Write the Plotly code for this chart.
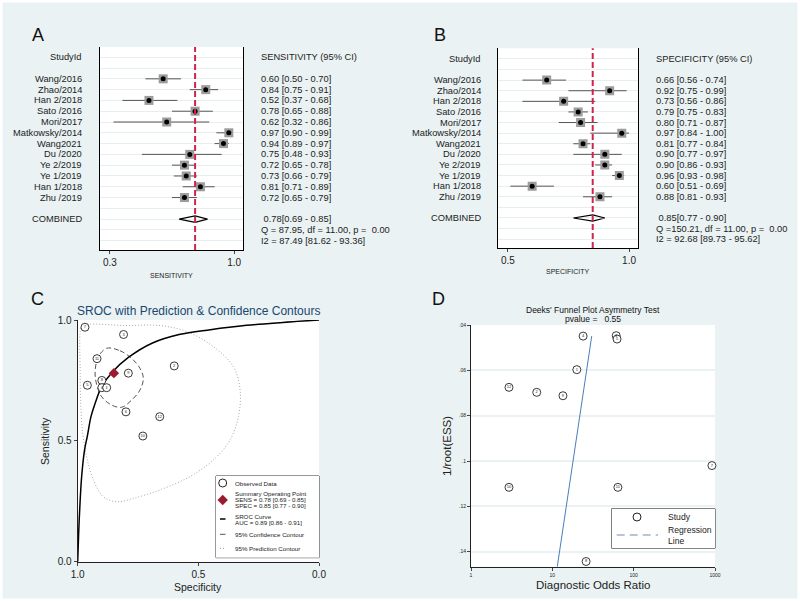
import plotly.graph_objects as go

# ---- forest plots, panels A and B
studies = ["Wang/2016", "Zhao/2014", "Han 2/2018", "Sato /2016", "Mori/2017",
           "Matkowsky/2014", "Wang2021", "Du /2020", "Ye 2/2019", "Ye 1/2019",
           "Han 1/2018", "Zhu /2019"]
sens = [0.60, 0.84, 0.52, 0.78, 0.62, 0.97, 0.94, 0.75, 0.72, 0.73, 0.81, 0.72]
sens_lo = [0.50, 0.75, 0.37, 0.65, 0.32, 0.90, 0.89, 0.48, 0.65, 0.66, 0.71, 0.65]
sens_hi = [0.70, 0.91, 0.68, 0.88, 0.86, 0.99, 0.97, 0.93, 0.78, 0.79, 0.89, 0.79]
spec = [0.66, 0.92, 0.73, 0.79, 0.80, 0.97, 0.81, 0.90, 0.90, 0.96, 0.60, 0.88]
spec_lo = [0.56, 0.75, 0.56, 0.75, 0.71, 0.84, 0.77, 0.77, 0.86, 0.93, 0.51, 0.81]
spec_hi = [0.74, 0.99, 0.86, 0.83, 0.87, 1.00, 0.84, 0.97, 0.93, 0.98, 0.69, 0.93]

sens_pooled = [0.78, 0.69, 0.85]
spec_pooled = [0.85, 0.77, 0.90]
# Q, df, p, I2, I2 low, I2 high
sens_het = [87.95, 11.00, 0.00, 87.49, 81.62, 93.36]
spec_het = [150.21, 11.00, 0.00, 92.68, 89.73, 95.62]

# ---- SROC, panel C (numbers of the study circles)
study_no = [12, 11, 10, 9, 6, 7, 3, 8, 4, 5, 2, 1]
sroc_spec = [1.0, 0.996, 0.99, 0.983, 0.972, 0.96, 0.945, 0.928, 0.90, 0.857,
             0.79, 0.69, 0.58, 0.45, 0.30, 0.15, 0.0]
sroc_sens = [0.0, 0.12, 0.25, 0.36, 0.46, 0.52, 0.60, 0.655, 0.725, 0.784,
             0.845, 0.905, 0.94, 0.96, 0.978, 0.99, 1.0]
conf_spec = [0.880, 0.825, 0.776, 0.742, 0.728, 0.742, 0.776, 0.818, 0.859,
             0.901, 0.921, 0.928, 0.914, 0.880]
conf_sens = [0.883, 0.873, 0.841, 0.800, 0.759, 0.710, 0.669, 0.639, 0.648,
             0.683, 0.731, 0.786, 0.848, 0.883]
pred_spec = [0.983, 0.80, 0.659, 0.548, 0.438, 0.355, 0.327, 0.334, 0.369, 0.438,
             0.535, 0.659, 0.769, 0.838, 0.894, 0.935, 0.963, 0.979, 0.988, 0.990,
             0.990, 0.983]
pred_sens = [0.975, 0.977, 0.977, 0.952, 0.890, 0.807, 0.710, 0.600, 0.503, 0.421,
             0.352, 0.297, 0.262, 0.248, 0.269, 0.338, 0.434, 0.531, 0.669, 0.807,
             0.945, 0.975]
auc = [0.89, 0.86, 0.91]

# ---- Deeks funnel, panel D
dor = [2.93, 64, 2.93, 13.5, 6.43, 917, 61, 26, 23.9, 62.5, 6.43, 20]
inv_root_ess = [0.0675, 0.1116, 0.1116, 0.0712, 0.1468, 0.102, 0.0447, 0.1443,
                0.0449, 0.0462, 0.0697, 0.0597]
reg_dor = [30.5, 11.5]
reg_ess = [0.0449, 0.1466]
deeks_p = 0.55

BG = "#eaf2f3"
FONT = "Liberation Sans, Arial, sans-serif"
NB = "\u00a0"


def px(x):
    return x / 800


def py(y):
    return 1 - y / 601


fig = go.Figure()
annots = []
shapes = []


def forest(n, est, lo, hi, pooled, het, xdom, ydom, yrange, label_x, text_x,
           header, xticks, xrange, title, title_y):
    xa = "x" if n == 1 else "x%d" % n
    ya = "y" if n == 1 else "y%d" % n
    rows = [2 + i for i in range(len(est))]
    row_comb = rows[-1] + 2

    xs, ys = [], []
    for l, h, r in zip(lo, hi, rows):
        xs += [l, h, None]
        ys += [r, r, None]
    fig.add_trace(go.Scatter(x=xs, y=ys, mode="lines", xaxis=xa, yaxis=ya,
                             line=dict(color="#555555", width=1), showlegend=False))
    fig.add_trace(go.Scatter(x=est, y=rows, mode="markers", xaxis=xa, yaxis=ya,
                             marker=dict(symbol="square", size=9, color="#9c9c9c"),
                             showlegend=False))
    fig.add_trace(go.Scatter(x=est, y=rows, mode="markers", xaxis=xa, yaxis=ya,
                             marker=dict(size=5, color="black"), showlegend=False))
    e, l, h = pooled
    fig.add_trace(go.Scatter(x=[l, e, h, e, l],
                             y=[row_comb, row_comb - 0.3, row_comb, row_comb + 0.3, row_comb],
                             mode="lines", xaxis=xa, yaxis=ya,
                             line=dict(color="black", width=1.2), showlegend=False))
    shapes.append(dict(type="line", xref=xa, yref=ya + " domain", x0=e, x1=e, y0=0, y1=1,
                       line=dict(color="#d0234e", width=2, dash="6px,3px")))

    ax = dict(domain=xdom, range=xrange, tickvals=xticks,
              ticktext=["%.1f" % t for t in xticks], showgrid=False, zeroline=False,
              showline=True, linecolor="black", linewidth=1, ticks="outside",
              ticklen=3, tickfont=dict(size=10, color="#222"), anchor=ya)
    ay = dict(domain=ydom, range=yrange, tickvals=list(range(0, row_comb + 3)),
              showticklabels=False, ticks="", showgrid=True, gridcolor="#e6eef0",
              gridwidth=1, zeroline=False, showline=True, mirror=True,
              linecolor="black", linewidth=1, anchor=xa)
    fig.update_layout({("xaxis" if n == 1 else "xaxis%d" % n): ax,
                       ("yaxis" if n == 1 else "yaxis%d" % n): ay})

    tf = dict(size=9.3, color="#222")
    annots.append(dict(text="StudyId", x=label_x, xref="paper", y=0, yref=ya,
                       xanchor="right", showarrow=False, font=tf))
    annots.append(dict(text=header, x=text_x, xref="paper", y=0, yref=ya,
                       xanchor="left", showarrow=False, font=tf))
    for s, v, a, b, r in zip(studies, est, lo, hi, rows):
        annots.append(dict(text=s, x=label_x, xref="paper", y=r, yref=ya,
                           xanchor="right", showarrow=False, font=tf))
        annots.append(dict(text="%.2f [%.2f - %.2f]" % (v, a, b), x=text_x, xref="paper",
                           y=r, yref=ya, xanchor="left", showarrow=False, font=tf))
    annots.append(dict(text="COMBINED", x=label_x, xref="paper", y=row_comb, yref=ya,
                       xanchor="right", showarrow=False, font=tf))
    annots.append(dict(text=NB + "%.2f[%.2f - %.2f]" % (e, l, h), x=text_x, xref="paper",
                       y=row_comb, yref=ya, xanchor="left", showarrow=False, font=tf))
    q, df, p, i2, i2l, i2h = het
    qtxt = ("Q =%6.2f, df = %.2f, p = %5.2f" % (q, df, p)).replace("  ", NB + NB).replace("= ", "=" + NB)
    annots.append(dict(text=qtxt, x=text_x, xref="paper", y=row_comb + 1, yref=ya,
                       xanchor="left", showarrow=False, font=tf))
    annots.append(dict(text="I2 = %.2f [%.2f - %.2f]" % (i2, i2l, i2h), x=text_x,
                       xref="paper", y=row_comb + 2, yref=ya, xanchor="left",
                       showarrow=False, font=tf))
    annots.append(dict(text=title, x=(xdom[0] + xdom[1]) / 2, xref="paper", y=title_y,
                       yref="paper", showarrow=False, font=dict(size=7, color="#222")))


forest(1, sens, sens_lo, sens_hi, sens_pooled, sens_het,
       [px(100), px(243)], [py(250), py(47)], [17.86, -0.95], px(84), px(259),
       "SENSITIVITY (95% CI)", [0.3, 1.0], [0.244, 1.05], "SENSITIVITY", py(275))
forest(2, spec, spec_lo, spec_hi, spec_pooled, spec_het,
       [px(498), px(638)], [py(248), py(48.3)], [17.83, -1.0], px(483), px(654),
       "SPECIFICITY (95% CI)", [0.5, 1.0], [0.459, 1.037], "SPECIFICITY", py(271.7))

# ---- panel C
c_ax = dict(xaxis="x3", yaxis="y3", showlegend=False, hoverinfo="skip")
fig.add_trace(go.Scatter(x=pred_spec, y=pred_sens, mode="lines", line_shape="spline",
                         line=dict(color="#a8a8a8", width=1, dash="1px,2px"), **c_ax))
fig.add_trace(go.Scatter(x=conf_spec, y=conf_sens, mode="lines", line_shape="spline",
                         line=dict(color="#555555", width=1, dash="5px,3px"), **c_ax))
fig.add_trace(go.Scatter(x=sroc_spec, y=sroc_sens, mode="lines", line_shape="spline",
                         line=dict(color="black", width=1.5), **c_ax))
fig.add_trace(go.Scatter(x=spec, y=sens, mode="markers+text", text=study_no,
                         textposition="middle center", textfont=dict(size=4, color="#222"),
                         marker=dict(size=8, color="white", line=dict(color="#222", width=0.9)),
                         cliponaxis=False, **c_ax))
fig.add_trace(go.Scatter(x=[spec_pooled[0]], y=[sens_pooled[0]], mode="markers",
                         marker=dict(symbol="diamond", size=8, color="#9b1b30"), **c_ax))

c_tick = dict(tickvals=[0, 0.5, 1], ticktext=["0.0", "0.5", "1.0"], showgrid=False,
              zeroline=False, showline=True, linecolor="#222", linewidth=1,
              ticks="outside", ticklen=3, tickfont=dict(size=10, color="#222"))
fig.update_layout(
    xaxis3=dict(domain=[px(77.7), px(319)], range=[1, 0], anchor="y3", **c_tick),
    yaxis3=dict(domain=[py(561.7), py(320)], range=[0, 1], anchor="x3", **c_tick),
)
annots.append(dict(text="SROC with Prediction &amp; Confidence Contours", x=px(198),
                   y=py(311), xref="paper", yref="paper", showarrow=False,
                   font=dict(size=12, color="#1a476f")))
annots.append(dict(text="Specificity", x=px(198), y=py(586.5), xref="paper", yref="paper",
                   showarrow=False, font=dict(size=10.5, color="#222")))
annots.append(dict(text="Sensitivity", x=px(45), y=py(441), xref="paper", yref="paper",
                   textangle=-90, showarrow=False, font=dict(size=10.5, color="#222")))

# hand-made legend for panel C (box in pixel units)
lg = dict(xaxis="x5", yaxis="y5", showlegend=False, hoverinfo="skip")
fig.update_layout(
    xaxis5=dict(domain=[px(216), px(319)], range=[0, 103], visible=False, anchor="y5"),
    yaxis5=dict(domain=[py(557.7), py(476)], range=[81.7, 0], visible=False, anchor="x5"),
)
shapes.append(dict(type="rect", xref="paper", yref="paper", x0=px(216), x1=px(319),
                   y0=py(557.7), y1=py(476), line=dict(color="#333", width=1),
                   fillcolor="white", layer="below"))
fig.add_trace(go.Scatter(x=[6.7], y=[7], mode="markers",
                         marker=dict(size=8, color="white", line=dict(color="#222", width=1)), **lg))
fig.add_trace(go.Scatter(x=[6.7], y=[24], mode="markers",
                         marker=dict(symbol="diamond", size=8, color="#9b1b30"), **lg))
fig.add_trace(go.Scatter(x=[4, 9.5], y=[43, 43], mode="lines",
                         line=dict(color="black", width=1.5), **lg))
fig.add_trace(go.Scatter(x=[4, 9.5], y=[58.3, 58.3], mode="lines",
                         line=dict(color="#555", width=1), **lg))
fig.add_trace(go.Scatter(x=[4, 9.5], y=[72.3, 72.3], mode="lines",
                         line=dict(color="#999", width=1, dash="1px,2px"), **lg))
leg_lines = [
    ("Observed Data", 7),
    ("Summary Operating Point", 17.3),
    ("SENS = %.2f [%.2f - %.2f]" % tuple(sens_pooled), 23.5),
    ("SPEC = %.2f [%.2f - %.2f]" % tuple(spec_pooled), 29.7),
    ("SROC Curve", 40.5),
    ("AUC = %.2f [%.2f - %.2f]" % tuple(auc), 46.3),
    ("95% Confidence Contour", 58.3),
    ("95% Prediction Contour", 72.3),
]
for t, yy in leg_lines:
    annots.append(dict(text=t, x=17, y=yy, xref="x5", yref="y5", xanchor="left",
                       showarrow=False, font=dict(size=6.2, color="#222")))

# ---- panel D
fig.add_trace(go.Scatter(x=reg_dor, y=reg_ess, mode="lines", xaxis="x4", yaxis="y4",
                         line=dict(color="#4a7ebb", width=1), showlegend=False))
fig.add_trace(go.Scatter(x=dor, y=inv_root_ess, mode="markers+text", text=study_no,
                         xaxis="x4", yaxis="y4", showlegend=False,
                         textposition="middle center", textfont=dict(size=4, color="#222"),
                         marker=dict(size=8, color="white", line=dict(color="#222", width=0.9)),
                         cliponaxis=False))
fig.update_layout(
    xaxis4=dict(domain=[px(471), px(715)], type="log", range=[0, 3], anchor="y4",
                tickvals=[1, 10, 100, 1000], ticktext=["1", "10", "100", "1000"],
                showgrid=False, zeroline=False, showline=True, linecolor="#222",
                ticks="outside", ticklen=3, tickfont=dict(size=5, color="#222")),
    yaxis4=dict(domain=[py(566.7), py(325)], range=[0.1466, 0.04], anchor="x4",
                tickvals=[0.04, 0.06, 0.08, 0.1, 0.12, 0.14],
                ticktext=[".04", ".06", ".08", ".1", ".12", ".14"],
                showgrid=True, gridcolor=BG, gridwidth=1.5, zeroline=False,
                showline=True, linecolor="#222", ticks="outside", ticklen=3,
                tickfont=dict(size=5, color="#222")),
)
annots.append(dict(text="Deeks' Funnel Plot Asymmetry Test", x=px(593), y=py(310),
                   xref="paper", yref="paper", showarrow=False,
                   font=dict(size=8.5, color="#111")))
annots.append(dict(text="pvalue =" + NB * 3 + "%.2f" % deeks_p, x=px(593), y=py(319),
                   xref="paper", yref="paper", showarrow=False,
                   font=dict(size=8.5, color="#111")))
annots.append(dict(text="Diagnostic Odds Ratio", x=px(593), y=py(585), xref="paper",
                   yref="paper", showarrow=False, font=dict(size=11.5, color="#222")))
annots.append(dict(text="1/root(ESS)", x=px(447), y=py(446), xref="paper", yref="paper",
                   textangle=-90, showarrow=False, font=dict(size=11.5, color="#222")))

# hand-made legend for panel D
lg2 = dict(xaxis="x6", yaxis="y6", showlegend=False, hoverinfo="skip")
fig.update_layout(
    xaxis6=dict(domain=[px(611.7), px(715)], range=[0, 103.3], visible=False, anchor="y6"),
    yaxis6=dict(domain=[py(548.3), py(508.7)], range=[39.6, 0], visible=False, anchor="x6"),
)
shapes.append(dict(type="rect", xref="paper", yref="paper", x0=px(611.7), x1=px(715),
                   y0=py(548.3), y1=py(508.7), line=dict(color="#222", width=1),
                   fillcolor="white", layer="below"))
fig.add_trace(go.Scatter(x=[25.3], y=[8.3], mode="markers",
                         marker=dict(size=8, color="white", line=dict(color="#222", width=1)), **lg2))
fig.add_trace(go.Scatter(x=[5, 46.3], y=[26.3, 26.3], mode="lines",
                         line=dict(color="#a4b4c8", width=1.5, dash="8px,5px"), **lg2))
for t, yy in [("Study", 8.6), ("Regression<br>Line", 26.3)]:
    annots.append(dict(text=t, x=54, y=yy, xref="x6", yref="y6", xanchor="left",
                       align="left", showarrow=False, font=dict(size=8.6, color="#222")))

# panel letters
for letter, lx, ly in [("A", 37.5, 35.5), ("B", 440, 35.5), ("C", 37.5, 299), ("D", 439, 299)]:
    annots.append(dict(text=letter, x=px(lx), y=py(ly), xref="paper", yref="paper",
                       showarrow=False, font=dict(size=18, color="#111")))

# paper annotations would otherwise snap to the nearest side
for a in annots:
    a.setdefault("xanchor", "center")
    a.setdefault("yanchor", "middle")

# thin white frame round the picture
shapes.append(dict(type="rect", xref="paper", yref="paper", x0=0, x1=1, y0=0, y1=1,
                   line=dict(color="white", width=5)))

fig.update_layout(
    width=800, height=601, margin=dict(l=0, r=0, t=0, b=0, autoexpand=False),
    paper_bgcolor=BG, plot_bgcolor="white",
    font=dict(family=FONT, color="#222"),
    annotations=annots, shapes=shapes, showlegend=False,
)

fig.write_html("out.html", config={"displayModeBar": False},
               post_script="document.body.style.margin='0';document.body.style.overflow='hidden';")
